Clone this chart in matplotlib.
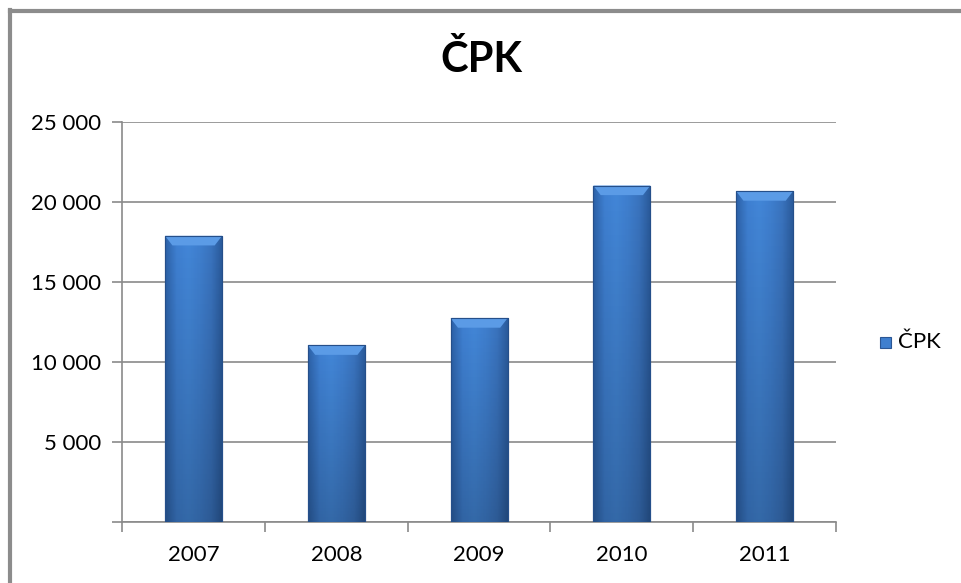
import numpy as np
import matplotlib
matplotlib.use('Agg')
import matplotlib.pyplot as plt
from matplotlib.ticker import FuncFormatter
from matplotlib.colors import LinearSegmentedColormap
from matplotlib.patches import Rectangle, Polygon

years = ['2007', '2008', '2009', '2010', '2011']
values = [17900, 11050, 12750, 21050, 20700]
series_name = 'ČPK'
y_ticks = [0, 5000, 10000, 15000, 20000, 25000]

plt.rcParams['font.family'] = ['Lato', 'Noto Sans', 'DejaVu Sans']

fig = plt.figure(figsize=(9.62, 5.83), dpi=100)
ax = fig.add_axes([0.127, 0.105, 0.742, 0.685])

x = np.arange(len(years))
bar_w = 0.4
bars = ax.bar(x, values, width=bar_w, color='#3f7fcf', edgecolor='#2b5694',
              linewidth=0.8, zorder=3)

# shaded look: darker at the side edges, a bit darker toward the bottom
cmap = LinearSegmentedColormap.from_list(
    'bar', ['#2d62a8', '#3f80d2', '#4387d8', '#3f7fcf', '#3a74bf', '#2a5a9a'])
for b in bars:
    x0, w, h = b.get_x(), b.get_width(), b.get_height()
    grad = np.tile(np.linspace(0, 1, 100), (60, 1))
    img = ax.imshow(grad, cmap=cmap, aspect='auto', extent=[x0, x0 + w, 0, h],
                    origin='lower', zorder=3.5, interpolation='bicubic')
    img.set_clip_path(b)
    dark = np.zeros((60, 1, 4))
    dark[..., 3] = np.linspace(0.22, 0, 60)[:, None]
    ax.imshow(dark, aspect='auto', extent=[x0, x0 + w, 0, h], origin='lower',
              zorder=3.6, interpolation='bilinear').set_clip_path(b)
    # bevel on top
    bev = 600
    dx = w * 0.13
    ax.add_patch(Polygon([[x0, h], [x0 + w, h], [x0 + w - dx, h - bev], [x0 + dx, h - bev]],
                         closed=True, facecolor='#5b9be6', edgecolor='none', zorder=3.7))
    ax.add_patch(Rectangle((x0, 0), w, h, fill=False, edgecolor='#254f8a', lw=0.8, zorder=3.8))

ax.set_xlim(-0.5, len(years) - 0.5)
ax.set_ylim(0, 25000)
ax.set_yticks(y_ticks)
ax.yaxis.set_major_formatter(FuncFormatter(
    lambda v, p: '' if v == 0 else f'{int(v):,}'.replace(',', ' ')))
ax.grid(axis='y', color='#8a8a8a', linewidth=1.2, zorder=0)
ax.set_axisbelow(True)

ax.set_xticks(np.arange(len(years) + 1) - 0.5, minor=False)
ax.set_xticklabels([])
ax.set_xticks(x, minor=True)
ax.set_xticklabels(years, minor=True)
ax.tick_params(axis='x', which='major', length=7, color='#8a8a8a', width=1.2)
ax.tick_params(axis='x', which='minor', length=0, labelsize=16, pad=17)
ax.tick_params(axis='y', length=7, color='#8a8a8a', width=1.2, labelsize=16, pad=8)

for s in ['top', 'right']:
    ax.spines[s].set_visible(False)
for s in ['left', 'bottom']:
    ax.spines[s].set_color('#8a8a8a')
    ax.spines[s].set_linewidth(1.2)

fig.text(0.5, 1 - 60 / 583, series_name, ha='center', va='center', fontsize=30, fontweight='bold')

# legend
fig.patches.append(Rectangle((880 / 962, 1 - 348 / 583), 11 / 962, 11 / 583,
                             transform=fig.transFigure, facecolor='#3f7fcf',
                             edgecolor='#2b5694', lw=0.8))
fig.text(898 / 962, 1 - 342 / 583, series_name, ha='left', va='center', fontsize=16)

# outer frame
fig.add_artist(plt.Line2D([10 / 962, 10 / 962], [0, 1 - 10 / 583], transform=fig.transFigure,
                          color='#8c8c8c', lw=3))
fig.add_artist(plt.Line2D([10 / 962, 1], [1 - 11 / 583, 1 - 11 / 583], transform=fig.transFigure,
                          color='#8c8c8c', lw=3))

fig.savefig('out.png', dpi=100)
